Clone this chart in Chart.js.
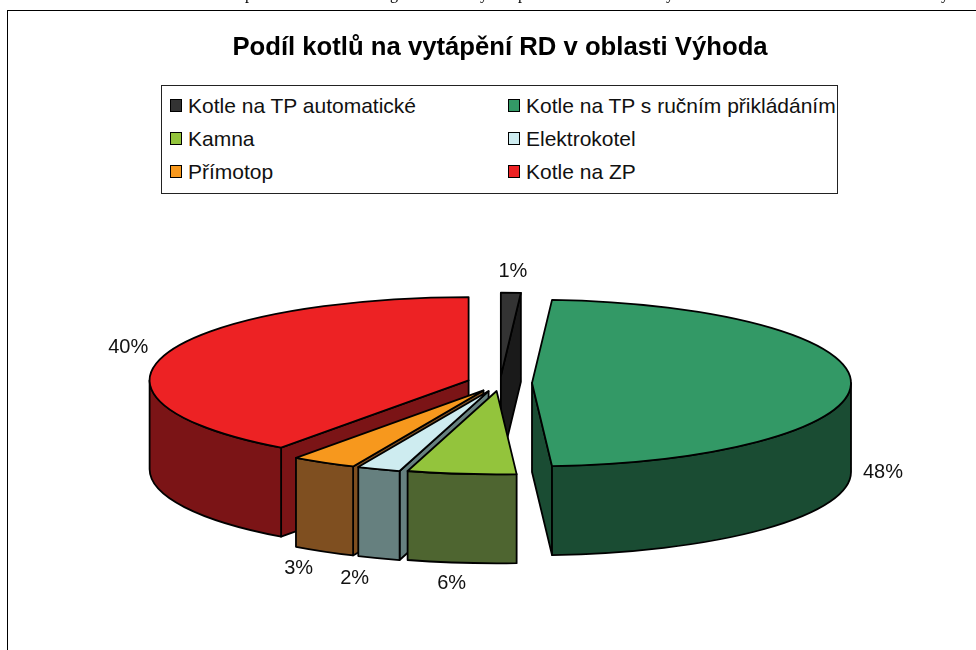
<!DOCTYPE html>
<html>
<head>
<meta charset="utf-8">
<script src="https://cdn.jsdelivr.net/npm/chart.js@4"></script>
<style>
    body { margin: 0; background: #fff; overflow: hidden; }
    #plocha { position: relative; width: 976px; height: 650px; }
    #ramecek { position: absolute; left: 7px; top: 10px; right: -5px; bottom: -5px; border: 1.5px solid #000; }
    #legenda {
        position: absolute; left: 161px; top: 85px; width: 675px; height: 107px;
        border: 1px solid #222; background: #fff; box-sizing: content-box;
        display: grid; grid-template-columns: 338px 337px; grid-auto-rows: 33px; padding-top: 0;
        font: 21px "Liberation Sans", sans-serif; color: #111;
    }
    #legenda div { display: flex; align-items: center; white-space: nowrap; padding-left: 8px; position: relative; top: 3px; }
    #legenda i { width: 10px; height: 11px; border: 1px solid #000; margin-right: 6px; display: inline-block; }
</style>
</head>
<body>
<div id="plocha">
    <div id="ramecek"></div>
    <canvas id="graf" width="976" height="650" style="position:absolute;left:0;top:0"></canvas>
    <div id="legenda"></div>
</div>
<script>
const kategorie = ['Kotle na TP automatické', 'Kotle na TP s ručním přikládáním', 'Kamna', 'Elektrokotel', 'Přímotop', 'Kotle na ZP'];
const hodnoty = [1, 48, 5.5, 2.2, 3.3, 40];
const barvy = ['#333333', '#339966', '#93C43C', '#CEECF0', '#F7981D', '#ED2224'];
const barvyBoku = ['#1A1A1A', '#1A4C33', '#4E6530', '#66807F', '#7F4F20', '#7B1416'];
const odsazeni = [27, 32, 31, 33, 33, 33];

// posun popisku od okraje vysece (ve vystupu je popisek mimo horni plochu)
const posunPopisku = [[2, -21], [32, 89], [-10, 110], [-24, 109], [-25, 106], [-37, -7]];

// zbytky radku textu nad grafem, z obrazku jsou videt jen dolni dotahy
const zbytkyTextu = [['p', 245], ['g', 390], ['y', 480], ['p', 518], ['y', 666], ['y', 941]];

const STLACENI = 0.261;
const HLOUBKA = 89;

const graf3d = {
    id: 'graf3d',
    beforeDatasetsDraw(chart) {
        const ctx = chart.ctx;
        const oblouky = chart.getDatasetMeta(0).data;
        const poradi = oblouky.map((el, i) => i).sort((a, b) => {
            const sa = Math.sin((oblouky[a].startAngle + oblouky[a].endAngle) / 2);
            const sb = Math.sin((oblouky[b].startAngle + oblouky[b].endAngle) / 2);
            return sa - sb;
        });

        ctx.save();
        ctx.lineWidth = 1.8;
        ctx.lineJoin = 'round';
        ctx.strokeStyle = '#000';

        poradi.forEach(i => {
            const el = oblouky[i];
            const stred = (el.startAngle + el.endAngle) / 2;
            const posun = el.options.offset;
            const cx = el.x + Math.cos(stred) * posun;
            const cy = el.y + Math.sin(stred) * posun * STLACENI;
            const rx = el.outerRadius;
            const ry = rx * STLACENI;

            // radialni steny, jen ty otocene k divakovi
            ctx.fillStyle = barvyBoku[i];
            [[el.startAngle, -1], [el.endAngle, 1]].forEach(([uhel, smer]) => {
                if (Math.sin(uhel + smer * Math.PI / 2) <= 0) return;
                const x = cx + Math.cos(uhel) * rx;
                const y = cy + Math.sin(uhel) * ry;
                ctx.beginPath();
                ctx.moveTo(cx, cy);
                ctx.lineTo(x, y);
                ctx.lineTo(x, y + HLOUBKA);
                ctx.lineTo(cx, cy + HLOUBKA);
                ctx.closePath();
                ctx.fill();
                ctx.stroke();
            });

            // vnejsi plast, jen predni pulka elipsy
            const a = Math.max(el.startAngle, 0);
            const b = Math.min(el.endAngle, Math.PI);
            if (b > a) {
                ctx.beginPath();
                ctx.ellipse(cx, cy, rx, ry, 0, a, b);
                ctx.ellipse(cx, cy + HLOUBKA, rx, ry, 0, b, a, true);
                ctx.closePath();
                ctx.fill();
                ctx.stroke();
            }

            // horni plocha
            ctx.fillStyle = el.options.backgroundColor;
            ctx.beginPath();
            ctx.moveTo(cx, cy);
            ctx.ellipse(cx, cy, rx, ry, 0, el.startAngle, el.endAngle);
            ctx.closePath();
            ctx.fill();
            ctx.stroke();
        });

        // popisky s procenty
        const soucet = hodnoty.reduce((s, v) => s + v, 0);
        ctx.font = '20px "Liberation Sans", sans-serif';
        ctx.fillStyle = '#111';
        ctx.textAlign = 'center';
        ctx.textBaseline = 'middle';
        oblouky.forEach((el, i) => {
            const stred = (el.startAngle + el.endAngle) / 2;
            const posun = el.options.offset;
            const x = el.x + Math.cos(stred) * (posun + el.outerRadius) + posunPopisku[i][0];
            const y = el.y + Math.sin(stred) * (posun + el.outerRadius) * STLACENI + posunPopisku[i][1];
            ctx.fillText(Math.round(hodnoty[i] / soucet * 100) + '%', x, y);
        });

        ctx.font = '16px "Liberation Serif", serif';
        ctx.fillStyle = '#000';
        ctx.textAlign = 'left';
        ctx.textBaseline = 'alphabetic';
        zbytkyTextu.forEach(([znak, x]) => ctx.fillText(znak, x, -1));
        ctx.restore();
        return false;
    }
};

const meuGraf = new Chart(document.getElementById('graf'), {
    type: 'pie',
    data: {
        labels: kategorie,
        datasets: [{
            data: hodnoty,
            backgroundColor: barvy,
            offset: odsazeni,
            radius: 319
        }]
    },
    options: {
        responsive: false,
        animation: false,
        layout: { padding: { left: 24 } },
        plugins: {
            legend: { display: false },
            tooltip: { enabled: false },
            title: {
                display: true,
                text: 'Podíl kotlů na vytápění RD v oblasti Výhoda',
                color: '#000',
                font: { family: '"Liberation Sans", sans-serif', size: 25.7, weight: 'bold', lineHeight: 1.2 },
                padding: { top: 32, bottom: 53.16 }
            }
        }
    },
    plugins: [graf3d]
});

// legenda ve dvou sloupcich
const legenda = document.getElementById('legenda');
kategorie.forEach((nazev, i) => {
    const radek = document.createElement('div');
    const ctverec = document.createElement('i');
    ctverec.style.background = barvy[i];
    radek.appendChild(ctverec);
    radek.appendChild(document.createTextNode(nazev));
    legenda.appendChild(radek);
});
</script>
</body>
</html>
